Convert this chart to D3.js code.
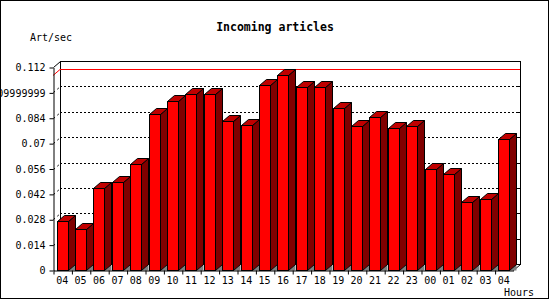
<!DOCTYPE html>
<html>
<head>
<meta charset="utf-8">
<script src="https://cdnjs.cloudflare.com/ajax/libs/d3/7.8.5/d3.min.js"></script>
<style>
  body { margin: 0; background: #fff; }
  svg text { font-family: "DejaVu Sans Mono", monospace; font-size: 10px; fill: #000; }
</style>
</head>
<body>
<div id="chart"></div>
<script>
// data
var hours = ['04','05','06','07','08','09','10','11','12','13','14','15','16','17','18','19','20','21','22','23','00','01','02','03','04'];
var artPerSec = [0.0269, 0.0224, 0.0451, 0.0484, 0.0583, 0.0861, 0.0931, 0.0973, 0.0971, 0.0820, 0.0798, 0.1019, 0.1076,
                 0.1008, 0.1008, 0.0892, 0.0793, 0.0842, 0.0782, 0.0793, 0.0557, 0.0528, 0.0377, 0.0390, 0.0721];
var yTicks = [0, 0.014, 0.028, 0.042, 0.056, 0.07, 0.084, 0.098, 0.112];
var yTickLabels = ['0', '0.014', '0.028', '0.042', '0.056', '0.07', '0.084', '0.09999999', '0.112'];

var W = 550, H = 300;
var dx = 7, dy = 6;   // 3d depth

var svg = d3.select('#chart').append('svg')
    .attr('width', W)
    .attr('height', H);

svg.append('rect')
    .attr('x', 0.5).attr('y', 0.5)
    .attr('width', W - 2).attr('height', H - 2)
    .attr('fill', '#fff')
    .attr('stroke', '#000');

var x = d3.scaleBand()
    .domain(d3.range(hours.length))
    .range([53, 513])
    .paddingInner(0.4)
    .paddingOuter(0.2);

var xEdge = d3.scaleLinear()
    .domain([0, hours.length])
    .range(x.range());

var y = d3.scaleLinear()
    .domain([0, 0.112])
    .range([270, 67]);

var x0 = x.range()[0], x1 = x.range()[1];
var yBase = y(0), yTop = y(0.112);

// back plane
svg.append('rect')
    .attr('x', x0 + dx + 0.5)
    .attr('y', yTop - dy + 0.5)
    .attr('width', x1 - x0)
    .attr('height', yBase - yTop)
    .attr('fill', '#fff')
    .attr('stroke', '#000');

// grid lines on back plane and side wall
var grid = svg.append('g').attr('class', 'grid');
yTicks.slice(1, -1).forEach(function(t) {
    var gy = Math.round(y(t) - dy) + 0.5;
    grid.append('line')
        .attr('x1', x0 + dx).attr('x2', x1 + dx)
        .attr('y1', gy).attr('y2', gy)
        .attr('stroke', '#000')
        .attr('stroke-dasharray', '2,2');
    grid.append('line')
        .attr('x1', x0 + 0.5).attr('y1', Math.round(y(t)) + 0.5)
        .attr('x2', x0 + dx + 0.5).attr('y2', gy)
        .attr('stroke', '#000')
        .attr('stroke-dasharray', '2,3');
    grid.append('line')
        .attr('x1', x1 + dx - 3).attr('x2', x1 + dx)
        .attr('y1', gy).attr('y2', gy)
        .attr('stroke', '#000');
});

// corner edges of the 3d box
svg.append('line')
    .attr('x1', x0 + 0.5).attr('y1', yTop + 0.5)
    .attr('x2', x0 + dx + 0.5).attr('y2', yTop - dy + 0.5)
    .attr('stroke', '#000');
svg.append('line')
    .attr('x1', x1 + 0.5).attr('y1', yBase + 0.5)
    .attr('x2', x1 + dx + 0.5).attr('y2', yBase - dy + 0.5)
    .attr('stroke', '#000');

// max line
var vmax = d3.max(artPerSec);
var my = Math.round(y(vmax)) + 0.5;
svg.append('line')
    .attr('x1', x0 + dx).attr('x2', x1 + dx)
    .attr('y1', my - dy).attr('y2', my - dy)
    .attr('stroke', '#f00');
svg.append('line')
    .attr('x1', x0).attr('y1', my)
    .attr('x2', x0 + dx).attr('y2', my - dy)
    .attr('stroke', '#f00');

// bars
var bars = svg.append('g').attr('class', 'bars')
    .selectAll('g')
    .data(artPerSec)
    .enter().append('g');

function pts(a) { return a.map(function(p) { return p.join(','); }).join(' '); }

bars.each(function(v, i) {
    var g = d3.select(this);
    var bx = Math.round(x(i)) + 0.5,
        bw = Math.round(x.bandwidth()),
        top = Math.round(y(v)) + 0.5,
        base = Math.round(yBase) + 0.5;
    g.append('polygon')
        .attr('points', pts([[bx + bw, base], [bx + bw + dx, base - dy], [bx + bw + dx, base]]))
        .attr('fill', '#808080');
    g.append('polygon')
        .attr('points', pts([[bx + bw, top], [bx + bw + dx, top - dy], [bx + bw + dx, base - dy], [bx + bw, base]]))
        .attr('fill', '#800000')
        .attr('stroke', '#000');
    g.append('polygon')
        .attr('points', pts([[bx, top], [bx + dx, top - dy], [bx + bw + dx, top - dy], [bx + bw, top]]))
        .attr('fill', '#c00000')
        .attr('stroke', '#000');
    g.append('rect')
        .attr('x', bx).attr('y', top)
        .attr('width', bw).attr('height', base - top)
        .attr('fill', '#f00')
        .attr('stroke', '#000');
});

// axes
var axisY = svg.append('g')
    .attr('transform', 'translate(' + (x0 + 0.5) + ',0.5)')
    .call(d3.axisLeft(y)
        .tickValues(yTicks)
        .tickFormat(function(d, i) { return yTickLabels[i]; })
        .tickSize(4)
        .tickSizeOuter(0)
        .tickPadding(4));

var axisX = svg.append('g')
    .attr('transform', 'translate(0.5,' + (yBase + 0.5) + ')')
    .call(d3.axisBottom(xEdge)
        .tickValues(d3.range(hours.length))
        .tickFormat('')
        .tickSize(4)
        .tickSizeOuter(0));

svg.append('g')
    .attr('transform', 'translate(0,' + (yBase + 0.5) + ')')
    .call(d3.axisBottom(x)
        .tickFormat(function(i) { return hours[i]; })
        .tickSize(0)
        .tickPadding(6))
    .call(function(g) { g.select('.domain').remove(); });

svg.selectAll('.tick text').attr('font-size', 10).attr('font-family', '"DejaVu Sans Mono", monospace');
svg.selectAll('.domain, .tick line').attr('stroke', '#000');

// titles
svg.append('text')
    .attr('x', 275).attr('y', 31)
    .attr('text-anchor', 'middle')
    .style('font-size', '11.5px')
    .style('font-weight', 'bold')
    .text('Incoming articles');

svg.append('text')
    .attr('x', 30).attr('y', 41)
    .text('Art/sec');

svg.append('text')
    .attr('x', 504).attr('y', 296)
    .text('Hours');
</script>
</body>
</html>
